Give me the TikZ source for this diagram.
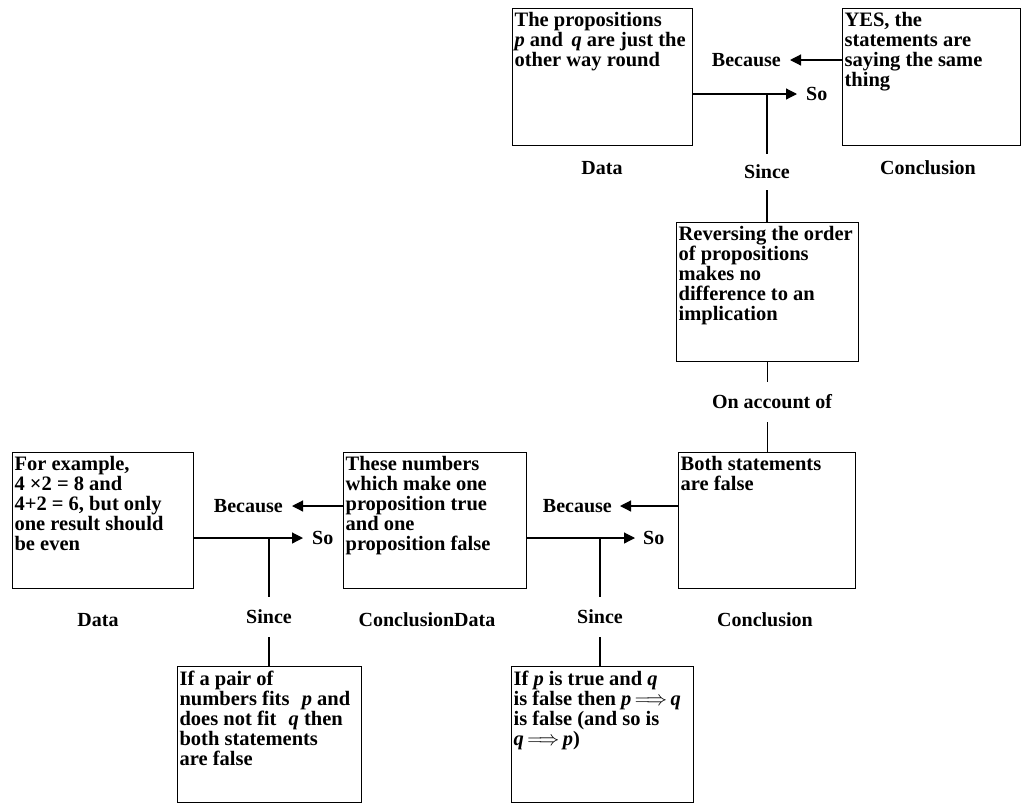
\documentclass[tikz,border=0pt]{standalone}
\usepackage{fontspec}
\setmainfont{Liberation Serif}
\usetikzlibrary{arrows.meta}
\newcommand{\boxcontent}[3]{\parbox[t][#2][t]{#1}{\raggedright #3}}
\begin{document}
\begin{tikzpicture}[x=1pt,y=-1pt,
  box/.style={draw, line width=1.2pt, anchor=north west, inner xsep=2pt, inner ysep=4pt,
    font=\fontsize{20.5}{20}\selectfont\bfseries},
  lbl/.style={font=\fontsize{20}{20}\selectfont\bfseries, inner sep=0pt},
  gaplbl/.style={lbl, minimum height=36pt},
  conn/.style={line width=1.2pt},
  arr/.style={line width=1.2pt, -{Triangle[length=11pt,width=11pt]}}]
\useasboundingbox (0,0) rectangle (1034,804);

% ---------- top argument ----------
\node[box] (tdata) at (512,8) {\boxcontent{176pt}{129pt}{The propositions\\
  \textit{p} and \,\textit{q} are just the\\ other way round}};
\node[box] (tconc) at (842,8) {\boxcontent{174pt}{129pt}{YES, the\\ statements are\\
  saying the same\\ thing}};
\node[box] (warr1) at (676,222) {\boxcontent{178pt}{131pt}{Reversing the order\\
  of propositions\\ makes no\\ difference to an\\ implication}};

\node[lbl] (tdatal) at (602,168) {Data};
\node[lbl] (tconcl) at (928,168) {Conclusion};
\node[lbl, anchor=east] (tbec) at (781,60) {Because};
\node[lbl, anchor=west] (tso) at (806,94) {So};
\node[gaplbl] (tsince) at (767,172) {Since};
\node[gaplbl, minimum height=40pt] (onacc) at (772,402) {On account of};

\coordinate (tbectip) at (790,60);
\coordinate (tsotip) at (797,94);
\coordinate (tsincetop) at (767,94);
\draw[arr] (tbectip -| tconc.west) -- (tbectip);
\draw[arr] (tsotip -| tdata.east) -- (tsotip);
\draw[conn] (tsincetop) -- (tsince.north);
\draw[conn] (tsince.south) -- (tsince.south |- warr1.north);

% ---------- bottom argument ----------
\node[box] (bconc) at (678,452) {\boxcontent{173pt}{128pt}{Both statements\\ are false}};
\node[box] (bmid) at (343,452) {\boxcontent{179pt}{128pt}{These numbers\\
  which make one\\ proposition true\\ and one\\ proposition false}};
\node[box] (bdata) at (12,452) {\boxcontent{177pt}{128pt}{For example,\\
  4 ×2 = 8 and\\ 4+2 = 6, but only\\ one result should\\ be even}};
\node[box] (warr2) at (177,666) {\boxcontent{180pt}{128pt}{If a pair of\\
  numbers fits\hspace{0.6em}\textit{p} and\\ does not fit\hspace{0.6em}\textit{q} then\\
  both statements\\ are false}};
\node[box] (warr3) at (511,666) {\boxcontent{178pt}{128pt}{If \textit{p} is true and \textit{q}\\
  is false then \textit{p}\,$\Longrightarrow$\,\textit{q}\\ is false (and so is\\
  \textit{q}\,$\Longrightarrow$\,\textit{p})}};

\draw[conn] (onacc.north -| warr1.south) -- (warr1.south);
\draw[conn] (onacc.south -| bconc.north) -- (bconc.north);

\node[lbl] (bdatal) at (98,620) {Data};
\node[lbl] (bmidl) at (427,620) {ConclusionData};
\node[lbl] (bconcl) at (765,620) {Conclusion};

% left pair
\node[lbl, anchor=east] (lbec) at (283,506) {Because};
\node[lbl, anchor=west] (lso) at (312,538) {So};
\node[gaplbl, minimum height=40pt] (lsince) at (269,617) {Since};
\coordinate (lbectip) at (292,506);
\coordinate (lsotip) at (303,538);
\coordinate (lsincetop) at (269,538);
\draw[arr] (lbectip -| bmid.west) -- (lbectip);
\draw[arr] (lsotip -| bdata.east) -- (lsotip);
\draw[conn] (lsincetop) -- (lsince.north);
\draw[conn] (lsince.south) -- (lsince.south |- warr2.north);

% right pair
\node[lbl, anchor=east] (rbec) at (612,506) {Because};
\node[lbl, anchor=west] (rso) at (643,538) {So};
\node[gaplbl, minimum height=40pt] (rsince) at (600,617) {Since};
\coordinate (rbectip) at (620,506);
\coordinate (rsotip) at (635,538);
\coordinate (rsincetop) at (600,538);
\draw[arr] (rbectip -| bconc.west) -- (rbectip);
\draw[arr] (rsotip -| bmid.east) -- (rsotip);
\draw[conn] (rsincetop) -- (rsince.north);
\draw[conn] (rsince.south) -- (rsince.south |- warr3.north);
\end{tikzpicture}
\end{document}
